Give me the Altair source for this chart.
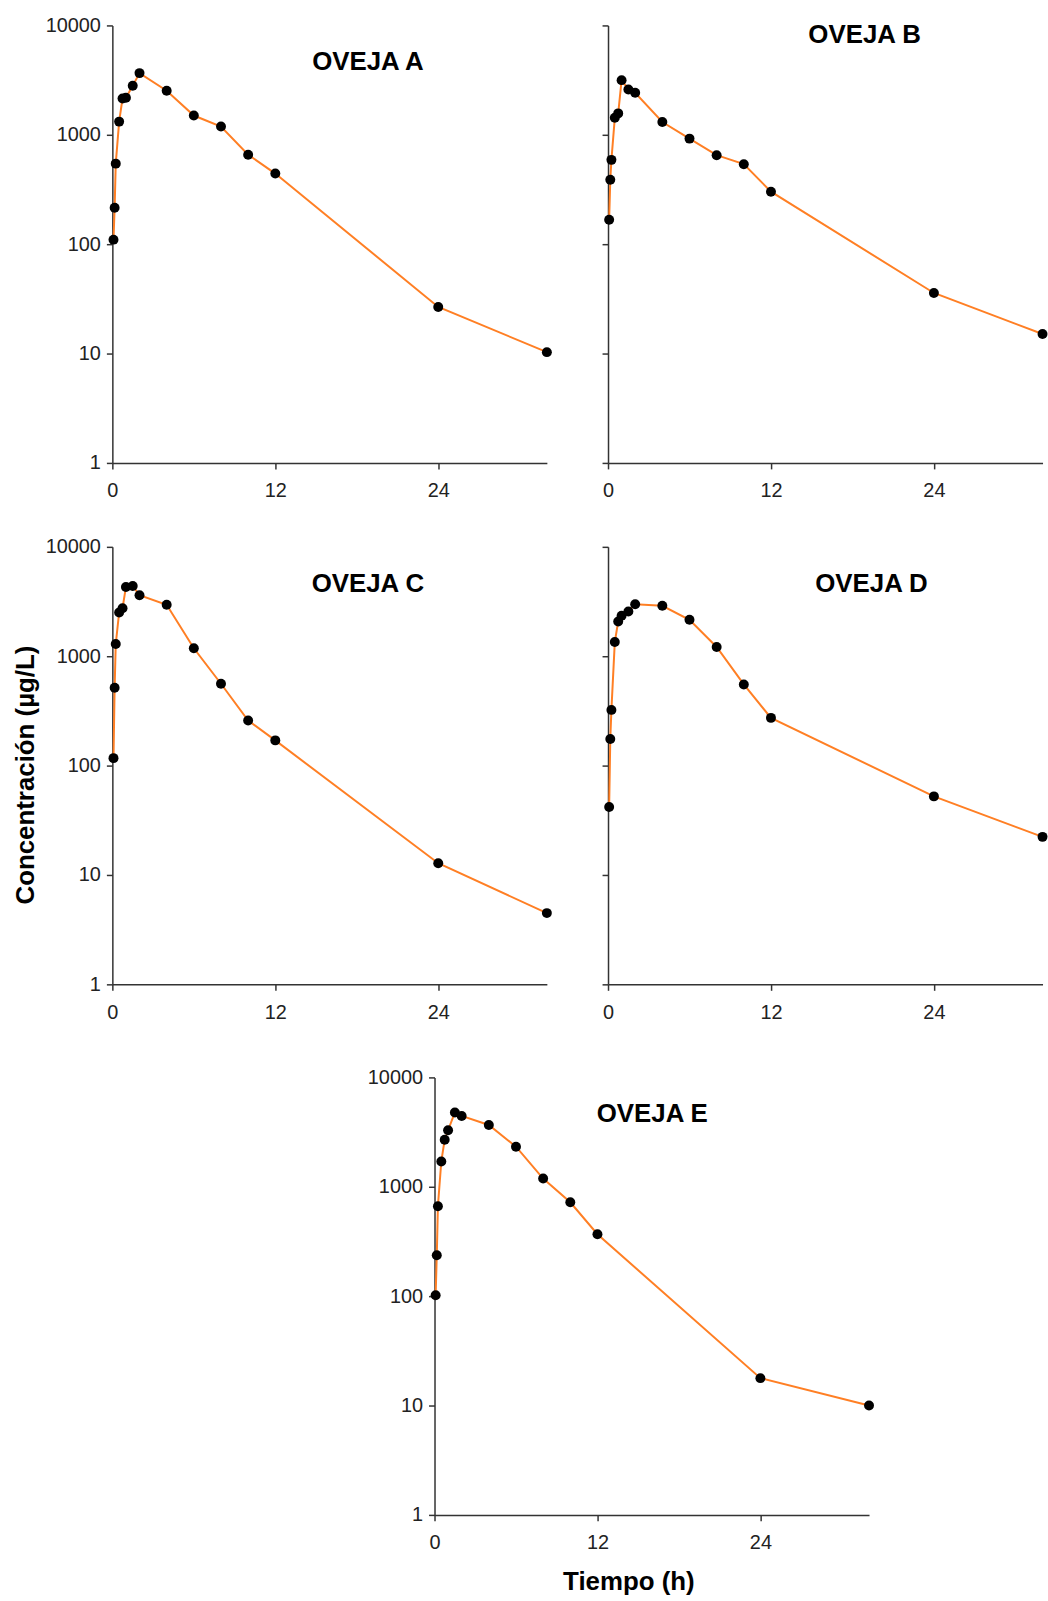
import altair as alt
import pandas as pd

# Sampling times (h)
tiempo_h = [0.083, 0.167, 0.25, 0.5, 0.75, 1, 1.5, 2, 4, 6, 8, 10, 12, 24, 32]

# Plasma concentration for each sheep (µg/L)
oveja_a = [110, 215, 545, 1320, 2150, 2180, 2810, 3665, 2530, 1500, 1190, 658, 442, 26.7, 10.3]
oveja_b = [167, 388, 590, 1430, 1570, 3160, 2600, 2420, 1310, 923, 651, 539, 302, 35.8, 15.1]
oveja_c = [117, 515, 1294, 2512, 2750, 4300, 4390, 3610, 2950, 1183, 560, 258, 170, 12.8, 4.48]
oveja_d = [41.8, 175, 323, 1350, 2080, 2343, 2565, 2991, 2890, 2154, 1216, 552, 273, 52.3, 22.3]
oveja_e = [102, 237, 664, 1706, 2694, 3287, 4786, 4446, 3671, 2324, 1189, 721, 368, 17.8, 10.0]

x_ticks = [0, 12, 24]
y_ticks = [1, 10, 100, 1000, 10000]

FONT = "Liberation Sans"
ORANGE = "#FF7F24"
W, H = 437, 440


def panel(nombre, conc, lx, ly, y_labels=True, y_axis_extra=None, x_axis_extra=None):
    df = pd.DataFrame({"tiempo": tiempo_h, "conc": conc})
    x_kw = dict(values=x_ticks, title=None)
    if x_axis_extra:
        x_kw.update(x_axis_extra)
    y_kw = dict(values=y_ticks, format="d", labels=y_labels, title=None)
    if y_axis_extra:
        y_kw.update(y_axis_extra)
    base = alt.Chart(df).encode(
        x=alt.X("tiempo:Q", scale=alt.Scale(domain=[0, 32], nice=False, zero=False),
                axis=alt.Axis(**x_kw)),
        y=alt.Y("conc:Q", scale=alt.Scale(type="log", domain=[1, 10000], nice=False),
                axis=alt.Axis(**y_kw)),
    )
    linea = base.mark_line(color=ORANGE, strokeWidth=2)
    puntos = base.mark_circle(color="black", size=100, opacity=1)
    etiqueta = alt.Chart(pd.DataFrame({"nombre": [nombre]})).mark_text(
        font=FONT, fontSize=26, fontWeight="bold", color="black",
        align="center", baseline="alphabetic",
    ).encode(text="nombre:N", x=alt.value(lx), y=alt.value(ly))
    return alt.layer(linea, puntos, etiqueta).properties(width=W, height=H)


a = panel("OVEJA A", oveja_a, 257, 45)
b = panel("OVEJA B", oveja_b, 258, 18, y_labels=False)
c = panel("OVEJA C", oveja_c, 257, 45, y_axis_extra=dict(
    title="Concentración (µg/L)", titleX=-74, titleY=229, titleBaseline="bottom",
    titleFontSize=26, titleFontWeight="bold"))
d = panel("OVEJA D", oveja_d, 265, 45, y_labels=False)
e = panel("OVEJA E", oveja_e, 219, 45, x_axis_extra=dict(
    title="Tiempo (h)", titleX=195, titleY=67, titleBaseline="middle",
    titleFontSize=26, titleFontWeight="bold"))

SPACER_W = 201
hueco = alt.Chart(pd.DataFrame({"v": [0]})).mark_rule(opacity=0).encode(
    x=alt.value(0), x2=alt.value(SPACER_W), y=alt.value(0)
).properties(width=SPACER_W, height=10)

fila1 = alt.hconcat(a, b, spacing=49.5)
fila2 = alt.hconcat(c, d, spacing=49.5)
fila3 = alt.hconcat(hueco, e, spacing=55)

chart = alt.vconcat(
    alt.vconcat(fila1, fila2, spacing=36.4), fila3, spacing=45
).properties(
    padding={"left": 13, "top": 11, "right": 0, "bottom": 0}
).configure_view(
    strokeWidth=0
).configure_axis(
    domainColor="#333", tickColor="#333", domainWidth=1.5, tickWidth=1.5, tickSize=6,
    labelFont=FONT, labelFontSize=20, labelColor="#222", grid=False, labelFlush=False,
    titleFont=FONT, titleColor="#000",
).configure_axisX(labelPadding=12).configure_axisY(labelPadding=6)

chart.save("out.html", embed_options={"renderer": "svg", "actions": False})
